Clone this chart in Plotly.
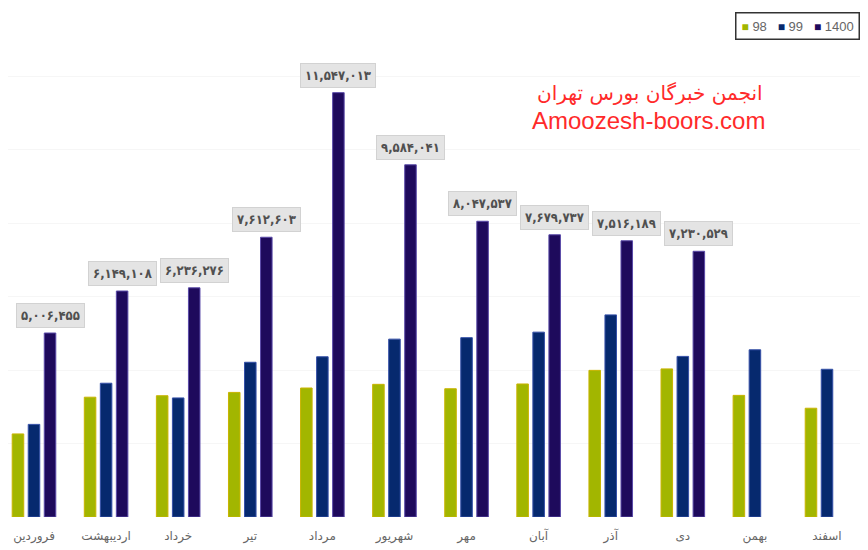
import plotly.graph_objects as go

months = ["فروردین", "اردیبهشت", "خرداد", "تیر", "مرداد", "شهریور",
          "مهر", "آبان", "آذر", "دی", "بهمن", "اسفند"]
s98 = [2.26e6, 3.26e6, 3.30e6, 3.39e6, 3.51e6, 3.61e6,
       3.49e6, 3.62e6, 3.99e6, 4.03e6, 3.31e6, 2.96e6]
s99 = [2.52e6, 3.64e6, 3.24e6, 4.21e6, 4.36e6, 4.84e6,
       4.88e6, 5.03e6, 5.50e6, 4.37e6, 4.55e6, 4.02e6]
s1400 = [5006455, 6149108, 6236276, 7612603, 11547013, 9584041,
         8047537, 7679737, 7516189, 7230529, None, None]
series_names = ["98", "99", "1400"]
colors = ["#a2b600", "#06296e", "#1e0a5c"]
edges = ["#c9b400", "#3550a8", "#5a4aa8"]

fa_digits = str.maketrans("0123456789", "۰۱۲۳۴۵۶۷۸۹")


def fa(n):
    return f"{n:,}".translate(fa_digits)


# page body offsets the figure by 8px; figure coords = screen - 8
W, H = 860, 542
L, R, T, B = 0, 3, 2, 33
PW, PH = W - L - R, H - T - B


def px(xs):
    return (xs - 8 - L) / PW


def py(ys):
    return 1 - (ys - 8 - T) / PH


fig = go.Figure()
for name, vals, c, e in zip(series_names, [s98, s99, s1400], colors, edges):
    fig.add_trace(go.Bar(x=months, y=vals, name=name,
                         marker=dict(color=c, line=dict(color=e, width=1))))

for m, v in zip(months, s1400):
    if v is None:
        continue
    fig.add_annotation(x=m, y=v, xref="x", yref="y", text=fa(v),
                       showarrow=False, xshift=16, yshift=5, yanchor="bottom",
                       font=dict(family="DejaVu Sans Condensed, DejaVu Sans, Tahoma, sans-serif",
                                 size=13, color="#505050", weight="bold"),
                       bgcolor="#e4e4e4", bordercolor="#d2d2d2", borderwidth=1,
                       borderpad=4)

legend_text = "&nbsp;&nbsp;&nbsp;".join(
    f"<span style='color:{c};font-size:12px'>■</span>&nbsp;<span style='color:#666'>{n}</span>"
    for n, c in zip(series_names, colors))
fig.add_annotation(x=px(860), y=py(12), xref="paper", yref="paper", xanchor="right",
                   yanchor="top", text=legend_text, showarrow=False,
                   font=dict(family="Liberation Sans, Arial", size=13, color="#666"),
                   bgcolor="white", bordercolor="#333", borderwidth=1.5, borderpad=5)

fig.add_annotation(x=px(650), y=py(93), xref="paper", yref="paper", xanchor="center",
                   yanchor="middle", text="انجمن خبرگان بورس تهران", showarrow=False,
                   font=dict(family="DejaVu Sans, Tahoma", size=20, color="#ff2a2a"))
fig.add_annotation(x=px(648), y=py(120), xref="paper", yref="paper", xanchor="center",
                   yanchor="middle", text="Amoozesh-boors.com", showarrow=False,
                   font=dict(family="Liberation Sans, Arial", size=24, color="#ff2a2a"))

fig.update_layout(
    width=W, height=H,
    margin=dict(l=L, r=R, t=T, b=B),
    paper_bgcolor="white", plot_bgcolor="white",
    barmode="group", bargap=0.333, bargroupgap=0.28,
    showlegend=False,
    xaxis=dict(range=[-0.3607, 11.527], showgrid=False, showline=False,
               ticks="", ticklabelstandoff=10,
               tickfont=dict(family="DejaVu Sans, Tahoma", size=12, color="#666")),
    yaxis=dict(range=[0, 13.796e6], dtick=2e6, showgrid=True, gridcolor="#f6f6f6",
               showticklabels=False, zeroline=False, showline=False),
)

fig.write_html("out.html")
